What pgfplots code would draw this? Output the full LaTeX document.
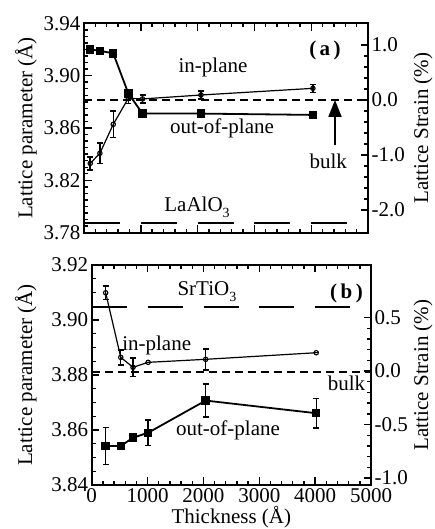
\documentclass[border=0pt]{standalone}
\usepackage{fontspec}
\setmainfont{Liberation Serif}
\usepackage{pgfplots}
\pgfplotsset{compat=1.18}
\usetikzlibrary{arrows.meta}

\newcommand{\fs}{\fontsize{21}{24}\selectfont}
\newcommand{\sub}[1]{\raisebox{-6pt}{\fontsize{14}{14}\selectfont #1}}

\pgfplotsset{
  frame/.style={
    scale only axis, anchor=south west, clip=false,
    axis line style={line width=1.8pt},
    tick align=inside,
    major tick length=7.5pt, minor tick length=4pt,
    every tick/.append style={line width=1.4pt, black},
    tick label style={font=\fs},
    label style={font=\fs},
    /pgf/number format/assume math mode=true,
    xmin=0, xmax=5000, xtick={0,1000,...,5000}, minor x tick num=4,
    scaled x ticks=false, scaled y ticks=false,
    xticklabel style={/pgf/number format/1000 sep={}},
  },
  lpar/.style={frame, ytick pos=left, xtick pos=both,
    yticklabel style={/pgf/number format/.cd, fixed, fixed zerofill, precision=2},
    ylabel={Lattice parameter (Å)},
  },
  strain/.style={frame, axis x line=none, axis y line*=right, ytick pos=right,
    yticklabel style={/pgf/number format/.cd, fixed, fixed zerofill, precision=1},
    ylabel={Lattice Strain (\%)},
    minor y tick num=4,
  },
  inpl/.style={black, line width=1.2pt, mark=o, mark size=2.2pt,
    mark options={fill=white, line width=1.1pt},
    error bars/.cd, y dir=both, y explicit,
    error bar style={line width=1.5pt}, error mark options={rotate=90, mark size=3pt, line width=1.5pt}},
  outpl/.style={black, line width=1.8pt, mark=square*, mark size=3.3pt,
    error bars/.cd, y dir=both, y explicit,
    error bar style={line width=1.5pt}, error mark options={rotate=90, mark size=3pt, line width=1.5pt}},
  refline/.style={black, line width=2pt},
}

\begin{document}
\begin{tikzpicture}
\useasboundingbox (0,0) rectangle (435pt,529pt);

% ---- (a) LaAlO3 substrate ----
\begin{axis}[lpar, at={(84pt,296.3pt)}, width=284pt, height=209.4pt,
  ymin=3.78, ymax=3.94, ytick={3.78,3.82,3.86,3.90,3.94}, minor y tick num=7,
  xticklabels={},
  ylabel style={at={(axis description cs:-0.204,0.5)}, anchor=center}]
\addplot[refline, dash pattern=on 36pt off 20.8pt] coordinates {(0,3.7872) (5000,3.7872)};
\addplot[refline, dash pattern=on 8pt off 5pt] coordinates {(0,3.8814) (5000,3.8814)};
\addplot[outpl] coordinates {
  (110,3.920) (280,3.919) (515,3.917) (780,3.8865) (1030,3.871) (2060,3.871) (4030,3.870)};
\addplot[inpl] coordinates {
  (110,3.833) +- (0,0.005)
  (280,3.8407) +- (0,0.008)
  (515,3.8628) +- (0,0.010)
  (780,3.8827) +- (0,0.004)
  (1030,3.8822) +- (0,0.003)
  (2060,3.8852) +- (0,0.003)
  (4030,3.8903) +- (0,0.003)};
\draw[line width=1.8pt, -{Triangle[width=13pt,length=17pt]}] (axis cs:4419,3.847) -- (axis cs:4419,3.8814);
\node[font=\fs] at (axis cs:2271,3.9059) {in-plane};
\node[font=\fs] at (axis cs:2430,3.860) {out-of-plane};
\node[font=\fs\bfseries] at (axis cs:4243,3.9196) {(\,a\,)};
\node[font=\fs] at (axis cs:4301,3.8343) {bulk};
\node[font=\fs] at (axis cs:1990,3.7995) {LaAlO\sub{3}};
\end{axis}
\begin{axis}[strain, at={(84pt,296.3pt)}, width=284pt, height=209.4pt,
  ymin=-2.413, ymax=1.395, ytick={-2,-1,0,1},
  ylabel style={at={(axis description cs:1.194,0.5)}, anchor=center}]
\end{axis}

% ---- (b) SrTiO3 substrate ----
\begin{axis}[lpar, at={(91.7pt,44pt)}, width=279.3pt, height=220pt,
  ymin=3.84, ymax=3.92, ytick={3.84,3.86,3.88,3.90,3.92}, minor y tick num=3,
  xlabel={Thickness (Å)},
  xlabel style={at={(axis description cs:0.5,0)}, anchor=center, yshift=-32pt},
  ylabel style={at={(axis description cs:-0.236,0.5)}, anchor=center}]
\addplot[refline, dash pattern=on 35pt off 20.9pt] coordinates {(0,3.9047) (5000,3.9047)};
\addplot[refline, dash pattern=on 8pt off 5pt] coordinates {(0,3.881) (5000,3.881)};
\addplot[outpl] coordinates {
  (250,3.8542) +- (0,0.0067)
  (520,3.8542) +- (0,0)
  (740,3.8572) +- (0,0)
  (1010,3.859) +- (0,0.0046)
  (2040,3.8707) +- (0,0.006)
  (4020,3.8661) +- (0,0.0053)};
\addplot[inpl] coordinates {
  (250,3.9099) +- (0,0.0025)
  (520,3.8864) +- (0,0.0027)
  (740,3.8828) +- (0,0.0033)
  (1010,3.8846) +- (0,0)
  (2040,3.8857) +- (0,0.0038)
  (4020,3.8881) +- (0,0)};
\node[font=\fs] at (axis cs:2063,3.9103) {SrTiO\sub{3}};
\node[font=\fs\bfseries] at (axis cs:4561,3.9097) {(\,b\,)};
\node[font=\fs] at (axis cs:1163,3.8909) {in-plane};
\node[font=\fs] at (axis cs:2440,3.860) {out-of-plane};
\node[font=\fs] at (axis cs:4561,3.877) {bulk};
\end{axis}
\begin{axis}[strain, at={(91.7pt,44pt)}, width=279.3pt, height=220pt,
  ymin=-1.065, ymax=0.991, ytick={-1,-0.5,0,0.5},
  ylabel style={at={(axis description cs:1.186,0.5)}, anchor=center}]
\end{axis}
\end{tikzpicture}
\end{document}
